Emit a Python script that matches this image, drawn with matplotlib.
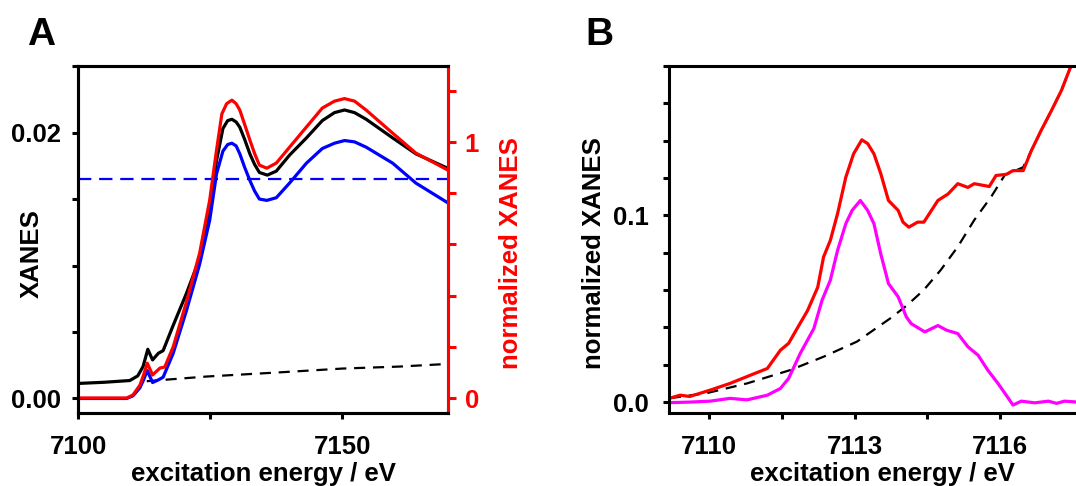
import matplotlib
matplotlib.use("Agg")
import matplotlib.pyplot as plt
from matplotlib.ticker import FixedLocator

plt.rcParams['font.family'] = ['Liberation Sans', 'DejaVu Sans']
plt.rcParams['font.weight'] = 'bold'
plt.rcParams['axes.labelweight'] = 'bold'

# ---- panel A data ----
# raw XANES (left axis)
e_black = [7100, 7105, 7109.8, 7111.3, 7112.3, 7113.2, 7114.1, 7115.2, 7116.1, 7118, 7120.5, 7122.4,
           7123.6, 7124.9, 7126.2, 7127.4, 7128.3, 7129.1, 7129.9, 7130.6, 7131.5, 7132.5, 7133.4,
           7134.3, 7135.8, 7137.5, 7140, 7143.2, 7146.2, 7148.5, 7150.4, 7152.3, 7154.5, 7159.5,
           7163.9, 7170]
xanes_black = [0.00113, 0.00122, 0.00135, 0.0017, 0.0024, 0.0037, 0.0029, 0.0034, 0.0036, 0.0055, 0.0079, 0.0099,
               0.0114, 0.0139, 0.0179, 0.0203, 0.0209, 0.0210, 0.0208, 0.0204, 0.0195, 0.0184, 0.0176,
               0.0170, 0.0168, 0.0171, 0.0183, 0.0196, 0.0209, 0.0215, 0.0217, 0.0215, 0.0210, 0.0196,
               0.0184, 0.0173]

# background-subtracted XANES (left axis)
e_blue = [7100, 7109.2, 7110.4, 7111.7, 7112.4, 7113.1, 7114.1, 7115.2, 7116.1, 7118, 7120.5, 7123,
          7124.9, 7126.2, 7127.4, 7128.3, 7129.1, 7129.9, 7130.6, 7131.5, 7132.5, 7133.4, 7134.3,
          7135.7, 7137.5, 7140, 7143.2, 7146.2, 7148.5, 7150.4, 7152.3, 7154.5, 7159.5, 7163.9, 7170]
xanes_blue = [0.0, 0.0, 0.0002, 0.0008, 0.0014, 0.0021, 0.0012, 0.0014, 0.0016, 0.0034, 0.0066, 0.0101,
              0.0134, 0.0169, 0.0186, 0.0191, 0.0192, 0.0190, 0.0184, 0.0174, 0.0164, 0.0156, 0.0150,
              0.0149, 0.0151, 0.0162, 0.0177, 0.0188, 0.0192, 0.0194, 0.0193, 0.0189, 0.0177, 0.0162, 0.0147]

# normalized XANES (right axis)
e_red = [7100, 7109.2, 7110.4, 7111.7, 7112.4, 7113.1, 7114.1, 7115.5, 7116.4, 7118, 7120.5, 7123,
         7124.9, 7126.2, 7127.2, 7128.1, 7129.1, 7129.9, 7130.6, 7131.5, 7132.5, 7133.4, 7134.3,
         7135.7, 7137.5, 7140, 7143.2, 7146.2, 7148.5, 7150.4, 7152.3, 7154.5, 7159.5, 7163.9, 7170]
norm_red = [0.0, 0.0, 0.012, 0.05, 0.09, 0.136, 0.09, 0.117, 0.121, 0.2, 0.375, 0.566,
            0.773, 0.969, 1.11, 1.15, 1.164, 1.150, 1.125, 1.07, 1.008, 0.955, 0.91,
            0.898, 0.918, 0.98, 1.059, 1.133, 1.160, 1.17, 1.160, 1.125, 1.035, 0.957, 0.89]

# pre-edge background (left axis)
e_bg = [7113, 7124.3, 7137.5, 7150, 7160.8, 7170]
bg_line = [0.0013, 0.00165, 0.00195, 0.00225, 0.0024, 0.0026]

edge_jump = 0.0165

# ---- panel B data ----
e_b_red = [7109.19, 7109.4, 7109.6, 7110.02, 7110.43, 7110.85, 7111.2, 7111.47, 7111.64, 7111.85,
           7112.03, 7112.24, 7112.36, 7112.5, 7112.65, 7112.82, 7112.98, 7113.15, 7113.27, 7113.4,
           7113.54, 7113.7, 7113.9, 7114.0, 7114.12, 7114.3, 7114.43, 7114.72, 7114.93, 7115.13,
           7115.34, 7115.47, 7115.78, 7115.92, 7116.13, 7116.27, 7116.48, 7116.65, 7116.85, 7117.06,
           7117.27, 7117.45, 7117.6]
b_red = [0.0021, 0.0037, 0.003, 0.0064, 0.010, 0.0144, 0.018, 0.0278, 0.0315, 0.041,
         0.049, 0.0615, 0.0777, 0.0866, 0.101, 0.1205, 0.133, 0.1405, 0.1385, 0.133,
         0.1225, 0.108, 0.1027, 0.0964, 0.0937, 0.0964, 0.0964, 0.108, 0.1115, 0.117,
         0.115, 0.117, 0.1155, 0.1214, 0.122, 0.124, 0.124, 0.1348, 0.1455, 0.156,
         0.167, 0.179, 0.186]

e_b_mag = [7109.19, 7109.6, 7110.02, 7110.43, 7110.78, 7111.2, 7111.47, 7111.64, 7111.88, 7112.16,
           7112.33, 7112.5, 7112.65, 7112.82, 7112.95, 7113.12, 7113.27, 7113.4, 7113.54, 7113.7,
           7113.9, 7114.07, 7114.17, 7114.45, 7114.72, 7114.9, 7115.13, 7115.34, 7115.55, 7115.75,
           7115.96, 7116.13, 7116.27, 7116.44, 7116.72, 7117.0, 7117.17, 7117.33, 7117.6]
b_mag = [-0.0003, 0.0, 0.0005, 0.002, 0.0012, 0.0037, 0.0073, 0.0127, 0.0261, 0.0394,
         0.0546, 0.0653, 0.0813, 0.0956, 0.1027, 0.108, 0.1027, 0.0956, 0.0795, 0.0635,
         0.0564, 0.0456, 0.042, 0.0376, 0.041, 0.0385, 0.0367, 0.0296, 0.0251, 0.0171,
         0.010, 0.0037, -0.0016, 0.0005, -0.0004, 0.0005, -0.0007, 0.0005, 0.0]

e_b_bg = [7109.19, 7109.95, 7110.78, 7111.68, 7112.36, 7113.05, 7113.74, 7114.09, 7114.43, 7114.78,
          7115.13, 7115.47, 7115.82, 7116.1, 7116.48, 7116.65, 7116.85, 7117.06, 7117.27, 7117.45, 7117.6]
b_bg = [0.0021, 0.0048, 0.010, 0.0172, 0.0243, 0.0324, 0.0449, 0.052, 0.0601, 0.0708,
        0.0832, 0.0975, 0.110, 0.1216, 0.1258, 0.1348, 0.1455, 0.156, 0.167, 0.179, 0.186]

fs = 18.5
lw_spine = 2.2
lw_curve = 2.3

fig = plt.figure(figsize=(10.76, 4.86), dpi=100)

# ================= panel A =================
axA = fig.add_axes([0.0725, 0.150, 0.344, 0.714])
axA.plot(e_bg, bg_line, color='black', lw=1.6, dashes=(5, 3.5))
axA.axhline(edge_jump, color='blue', lw=1.6, dashes=(6, 3.5))
axA.plot(e_black, xanes_black, color='black', lw=lw_curve)
axA.plot(e_blue, xanes_blue, color='blue', lw=lw_curve)
axA.set_xlim(7100, 7170)
axA.set_ylim(-0.0011, 0.025)
axA.xaxis.set_major_locator(FixedLocator([7100, 7150]))
axA.xaxis.set_minor_locator(FixedLocator([7125]))
axA.yaxis.set_major_locator(FixedLocator([0.0, 0.02]))
axA.yaxis.set_minor_locator(FixedLocator([0.005, 0.01, 0.015, 0.025]))
axA.set_yticklabels(['0.00', '0.02'])
axA.set_xlabel('excitation energy / eV', fontsize=fs)
axA.set_ylabel('XANES', fontsize=fs)
axA.xaxis.set_label_coords(0.5, -0.141)
axA.yaxis.set_label_coords(-0.092, 0.46)

axA2 = axA.twinx()
axA2.plot(e_red, norm_red, color='red', lw=lw_curve)
axA2.set_ylim(-0.059, 1.297)
axA2.yaxis.set_major_locator(FixedLocator([0, 1]))
axA2.yaxis.set_minor_locator(FixedLocator([0.2, 0.4, 0.6, 0.8, 1.2]))
axA2.set_ylabel('normalized XANES', fontsize=fs, color='red')
axA2.yaxis.set_label_coords(1.138, 0.46)
axA2.tick_params(axis='y', which='both', colors='red', direction='out', length=6,
                 width=lw_spine, labelsize=fs, pad=6)

for sp in ['left', 'top', 'bottom', 'right']:
    axA.spines[sp].set_linewidth(lw_spine)
    axA2.spines[sp].set_linewidth(lw_spine)
axA2.spines['right'].set_color('red')

axA.tick_params(axis='both', which='both', direction='out', length=4.5, width=lw_spine,
                labelsize=fs)
axA.tick_params(axis='x', pad=11)
axA.tick_params(axis='y', pad=8)
fig.text(0.025, 0.9074, 'A', fontsize=28, fontweight='bold', va='baseline')

# ================= panel B =================
axB = fig.add_axes([0.6217, 0.150, 0.3783, 0.714])
axB.plot(e_b_bg, b_bg, color='black', lw=1.6, dashes=(5, 3.5))
axB.plot(e_b_red, b_red, color='red', lw=lw_curve)
axB.plot(e_b_mag, b_mag, color='magenta', lw=lw_curve)
axB.set_xlim(7109.17, 7117.57)
axB.set_ylim(-0.0059, 0.18)
axB.xaxis.set_major_locator(FixedLocator([7110, 7113, 7116]))
axB.xaxis.set_minor_locator(FixedLocator([7111.5, 7114.5]))
axB.yaxis.set_major_locator(FixedLocator([0.0, 0.1]))
axB.yaxis.set_minor_locator(FixedLocator([0.02, 0.04, 0.06, 0.08, 0.12, 0.14, 0.16, 0.18]))
axB.set_yticklabels(['0.0', '0.1'])
axB.set_xlabel('excitation energy / eV', fontsize=fs)
axB.set_ylabel('normalized XANES', fontsize=fs)
axB.xaxis.set_label_coords(0.524, -0.141)
axB.yaxis.set_label_coords(-0.155, 0.46)
for sp in ['left', 'top', 'bottom']:
    axB.spines[sp].set_linewidth(lw_spine)
axB.spines['right'].set_visible(False)
axB.tick_params(axis='both', which='both', direction='out', length=4.5, width=lw_spine,
                labelsize=fs)
axB.tick_params(axis='x', pad=11)
axB.tick_params(axis='y', pad=10)
fig.text(0.5437, 0.9074, 'B', fontsize=28, fontweight='bold', va='baseline')

fig.savefig('out.png', dpi=100)
